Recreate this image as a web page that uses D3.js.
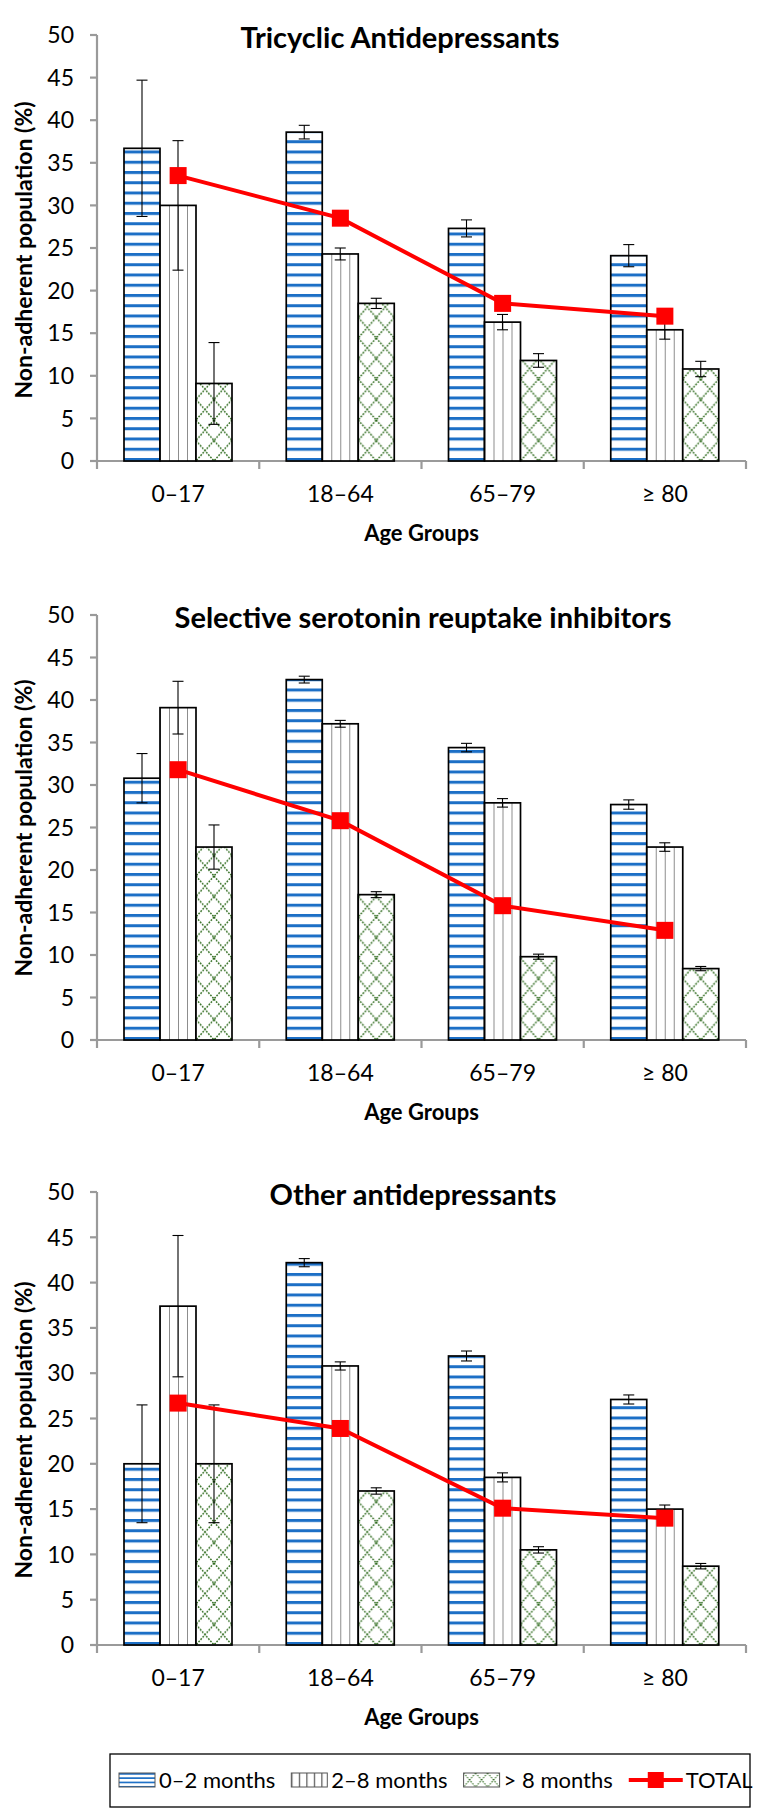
<!DOCTYPE html>
<html><head><meta charset="utf-8">
<script src="https://cdn.jsdelivr.net/npm/d3@7"></script>
<style>body{margin:0;background:#fff}svg{display:block;font-family:Lato,"Open Sans",sans-serif}</style>
</head><body>
<svg id="c" width="763" height="1812"></svg>
<script>
// ---------- DATA ----------
const categories = ["0–17", "18–64", "65–79", "≥ 80"];
const seriesNames = ["0–2 months", "2–8 months", "> 8 months"];
const totalName = "TOTAL";
const panelTitles = ["Tricyclic Antidepressants", "Selective serotonin reuptake inhibitors", "Other antidepressants"];
const yTicks = [0, 5, 10, 15, 20, 25, 30, 35, 40, 45, 50];
const yLabel = "Non-adherent population (%)";
const xLabel = "Age Groups";

// Tricyclic antidepressants
const tca_0_2 = [36.7, 38.6, 27.3, 24.1];
const tca_2_8 = [30.0, 24.3, 16.3, 15.4];
const tca_gt8 = [9.1, 18.5, 11.8, 10.8];
const tca_total = [33.5, 28.5, 18.5, 17.0];
const tca_err_0_2 = [8.0, 0.8, 1.0, 1.3];
const tca_err_2_8 = [7.6, 0.7, 0.9, 1.1];
const tca_err_gt8 = [4.8, 0.6, 0.8, 0.9];

// Selective serotonin reuptake inhibitors
const ssri_0_2 = [30.8, 42.4, 34.4, 27.7];
const ssri_2_8 = [39.1, 37.2, 27.9, 22.7];
const ssri_gt8 = [22.7, 17.1, 9.8, 8.4];
const ssri_total = [31.8, 25.8, 15.8, 12.9];
const ssri_err_0_2 = [2.9, 0.4, 0.5, 0.55];
const ssri_err_2_8 = [3.1, 0.4, 0.5, 0.5];
const ssri_err_gt8 = [2.6, 0.35, 0.3, 0.25];

// Other antidepressants
const oth_0_2 = [20.0, 42.2, 31.9, 27.1];
const oth_2_8 = [37.4, 30.8, 18.5, 15.0];
const oth_gt8 = [20.0, 17.0, 10.5, 8.7];
const oth_total = [26.7, 23.9, 15.1, 14.0];
const oth_err_0_2 = [6.5, 0.45, 0.55, 0.5];
const oth_err_2_8 = [7.8, 0.45, 0.5, 0.45];
const oth_err_gt8 = [6.5, 0.35, 0.35, 0.3];

const panelsData = [
  {title: panelTitles[0], series: [tca_0_2, tca_2_8, tca_gt8], errs: [tca_err_0_2, tca_err_2_8, tca_err_gt8], total: tca_total},
  {title: panelTitles[1], series: [ssri_0_2, ssri_2_8, ssri_gt8], errs: [ssri_err_0_2, ssri_err_2_8, ssri_err_gt8], total: ssri_total},
  {title: panelTitles[2], series: [oth_0_2, oth_2_8, oth_gt8], errs: [oth_err_0_2, oth_err_2_8, oth_err_gt8], total: oth_total}
];

// ---------- LAYOUT ----------
const layout = [
  {top: 35, bottom: 461, titleX: 400, yTitleY: 250},
  {top: 615, bottom: 1040, titleX: 423, yTitleY: 828},
  {top: 1192, bottom: 1645, titleX: 413, yTitleY: 1430}
];
const xLeft = 97, xRight = 746;
const blue = "#1c6fc6", green = "#2f6b1e", red = "#ff0000", axisGray = "#9a9a9a";

const svg = d3.select("#c");
const defs = svg.append("defs");

const x0 = d3.scaleBand().domain(categories).range([xLeft, xRight]).paddingInner(0).paddingOuter(0);
const x1 = d3.scaleBand().domain(seriesNames).range([27, 27 + 108]).padding(0);

function hPattern(id, baseY) {
  const p = defs.append("pattern").attr("id", id).attr("patternUnits", "userSpaceOnUse")
    .attr("x", 0).attr("y", baseY - 3).attr("width", 10).attr("height", 10.25);
  p.append("rect").attr("x", 0).attr("y", 0).attr("width", 10).attr("height", 3).attr("fill", blue);
}
function vPattern(id) {
  const p = defs.append("pattern").attr("id", id).attr("patternUnits", "objectBoundingBox")
    .attr("x", 0).attr("y", 0).attr("width", 0.25).attr("height", 1);
  p.append("rect").attr("x", -0.75).attr("y", 0).attr("width", 1.5).attr("height", 3000).attr("fill", "#666");
}
function xPattern(id, bx, baseY) {
  const w = 18, h = 20.5;
  const p = defs.append("pattern").attr("id", id).attr("patternUnits", "userSpaceOnUse")
    .attr("x", bx).attr("y", baseY).attr("width", w).attr("height", h);
  p.append("path").attr("d", `M0,0L${w},${h}M${w},0L0,${h}`)
    .attr("stroke", green).attr("stroke-width", 1.5).attr("stroke-dasharray", "1.8,1.3").attr("fill", "none");
}
vPattern("vstripe");

panelsData.forEach((pd, pi) => {
  const L = layout[pi];
  const y = d3.scaleLinear().domain([0, 50]).range([L.bottom, L.top]);
  const g = svg.append("g");
  hPattern("hstripe" + pi, L.bottom);

  // y axis
  g.append("line").attr("x1", xLeft).attr("x2", xLeft).attr("y1", L.top).attr("y2", L.bottom + 8)
    .attr("stroke", axisGray).attr("stroke-width", 2.2);
  yTicks.forEach(t => {
    g.append("line").attr("x1", xLeft - 7).attr("x2", xLeft).attr("y1", y(t)).attr("y2", y(t))
      .attr("stroke", axisGray).attr("stroke-width", 2.2);
    g.append("text").attr("x", 74).attr("y", y(t)).attr("dy", "0.36em").attr("text-anchor", "end")
      .attr("font-size", 23).attr("fill", "#000").text(t);
  });
  // x axis
  g.append("line").attr("x1", xLeft).attr("x2", xRight).attr("y1", L.bottom).attr("y2", L.bottom)
    .attr("stroke", axisGray).attr("stroke-width", 2.2);
  categories.forEach((c, i) => {
    const xb = x0(c) + x0.bandwidth();
    g.append("line").attr("x1", xb).attr("x2", xb).attr("y1", L.bottom).attr("y2", L.bottom + 8)
      .attr("stroke", axisGray).attr("stroke-width", 2.2);
    g.append("text").attr("x", x0(c) + x0.bandwidth() / 2).attr("y", L.bottom + 33).attr("dy", "0.36em")
      .attr("text-anchor", "middle").attr("font-size", 23).text(c);
  });
  g.append("text").attr("x", (xLeft + xRight) / 2).attr("y", L.bottom + 72).attr("dy", "0.36em")
    .attr("text-anchor", "middle").attr("font-size", 22).attr("font-weight", "bold").text(xLabel);
  // y title
  g.append("text").attr("transform", `translate(24,${L.yTitleY}) rotate(-90)`).attr("dy", "0.36em")
    .attr("text-anchor", "middle").attr("font-size", 23).attr("font-weight", "bold").text(yLabel);
  // title
  g.append("text").attr("x", L.titleX).attr("y", L.top + 3).attr("dy", "0.36em").attr("text-anchor", "middle")
    .attr("font-size", 29).attr("font-weight", "bold").text(pd.title);

  // bars
  pd.series.forEach((vals, si) => {
    vals.forEach((v, ci) => {
      const bx = x0(categories[ci]) + x1(seriesNames[si]);
      let fill;
      if (si === 0) fill = `url(#hstripe${pi})`;
      else if (si === 1) fill = "url(#vstripe)";
      else { const id = `xp${pi}_${ci}`; xPattern(id, bx, L.bottom); fill = `url(#${id})`; }
      g.append("rect").attr("x", bx).attr("y", y(v)).attr("width", x1.bandwidth()).attr("height", y(0) - y(v))
        .attr("fill", "#fff");
      g.append("rect").attr("x", bx).attr("y", y(v)).attr("width", x1.bandwidth()).attr("height", y(0) - y(v))
        .attr("fill", fill).attr("stroke", "#000").attr("stroke-width", 1.7);
    });
  });
  // error bars
  pd.series.forEach((vals, si) => {
    vals.forEach((v, ci) => {
      const e = pd.errs[si][ci];
      const cx = x0(categories[ci]) + x1(seriesNames[si]) + x1.bandwidth() / 2;
      const eg = g.append("g").attr("stroke", "#000").attr("stroke-width", 1.1);
      eg.append("line").attr("x1", cx).attr("x2", cx).attr("y1", y(v + e)).attr("y2", y(v - e));
      eg.append("line").attr("x1", cx - 5.5).attr("x2", cx + 5.5).attr("y1", y(v + e)).attr("y2", y(v + e));
      eg.append("line").attr("x1", cx - 5.5).attr("x2", cx + 5.5).attr("y1", y(v - e)).attr("y2", y(v - e));
    });
  });
  // total line
  const line = d3.line().x((d, i) => x0(categories[i]) + x0.bandwidth() / 2).y(d => y(d));
  g.append("path").attr("d", line(pd.total)).attr("fill", "none").attr("stroke", red).attr("stroke-width", 4);
  g.selectAll(null).data(pd.total).enter().append("rect")
    .attr("x", (d, i) => x0(categories[i]) + x0.bandwidth() / 2 - 8.5).attr("y", d => y(d) - 8.5)
    .attr("width", 17).attr("height", 17).attr("fill", red);
});

// ---------- LEGEND ----------
const lg = svg.append("g");
const boxX = 110, boxW = 640;
lg.append("rect").attr("x", boxX).attr("y", 1754).attr("width", boxW).attr("height", 53)
  .attr("fill", "#fff").attr("stroke", "#000").attr("stroke-width", 1.3);
const ly = 1780;
defs.append("pattern").attr("id", "lgH").attr("patternUnits", "userSpaceOnUse").attr("x", 0).attr("y", ly - 7)
  .attr("width", 10).attr("height", 4.3).append("rect").attr("width", 10).attr("height", 1.7).attr("fill", blue);
const lgV = defs.append("pattern").attr("id", "lgV").attr("patternUnits", "userSpaceOnUse").attr("x", 0).attr("y", 0)
  .attr("width", 7.5).attr("height", 20);
lgV.append("rect").attr("x", 0).attr("width", 1.2).attr("height", 20).attr("fill", "#555");

const legendFont = 22, swW = 36, swGap = 4, itemGap = 16;
let cx = boxX + 9;
seriesNames.forEach((name, i) => {
  let fill;
  if (i === 0) fill = "url(#lgH)";
  else if (i === 1) { d3.select("#lgV").attr("x", cx); fill = "url(#lgV)"; }
  else {
    const p = defs.append("pattern").attr("id", "lgX").attr("patternUnits", "userSpaceOnUse")
      .attr("x", cx).attr("y", ly - 7).attr("width", 12).attr("height", 14);
    p.append("path").attr("d", "M0,0L12,14M12,0L0,14").attr("stroke", green).attr("stroke-width", 1.1)
      .attr("stroke-dasharray", "1.5,1.2").attr("fill", "none");
    fill = "url(#lgX)";
  }
  lg.append("rect").attr("x", cx).attr("y", ly - 7).attr("width", swW).attr("height", 14)
    .attr("fill", fill).attr("stroke", "#555").attr("stroke-width", 1);
  const t = lg.append("text").attr("x", cx + swW + swGap).attr("y", ly).attr("dy", "0.36em")
    .attr("font-size", legendFont).text(name);
  cx += swW + swGap + t.node().getComputedTextLength() + itemGap;
});
lg.append("line").attr("x1", cx).attr("x2", cx + 54).attr("y1", ly).attr("y2", ly).attr("stroke", red).attr("stroke-width", 4);
lg.append("rect").attr("x", cx + 19).attr("y", ly - 8).attr("width", 16).attr("height", 16).attr("fill", red);
lg.append("text").attr("x", cx + 57).attr("y", ly).attr("dy", "0.36em").attr("font-size", legendFont).text(totalName);
</script>
</body></html>
